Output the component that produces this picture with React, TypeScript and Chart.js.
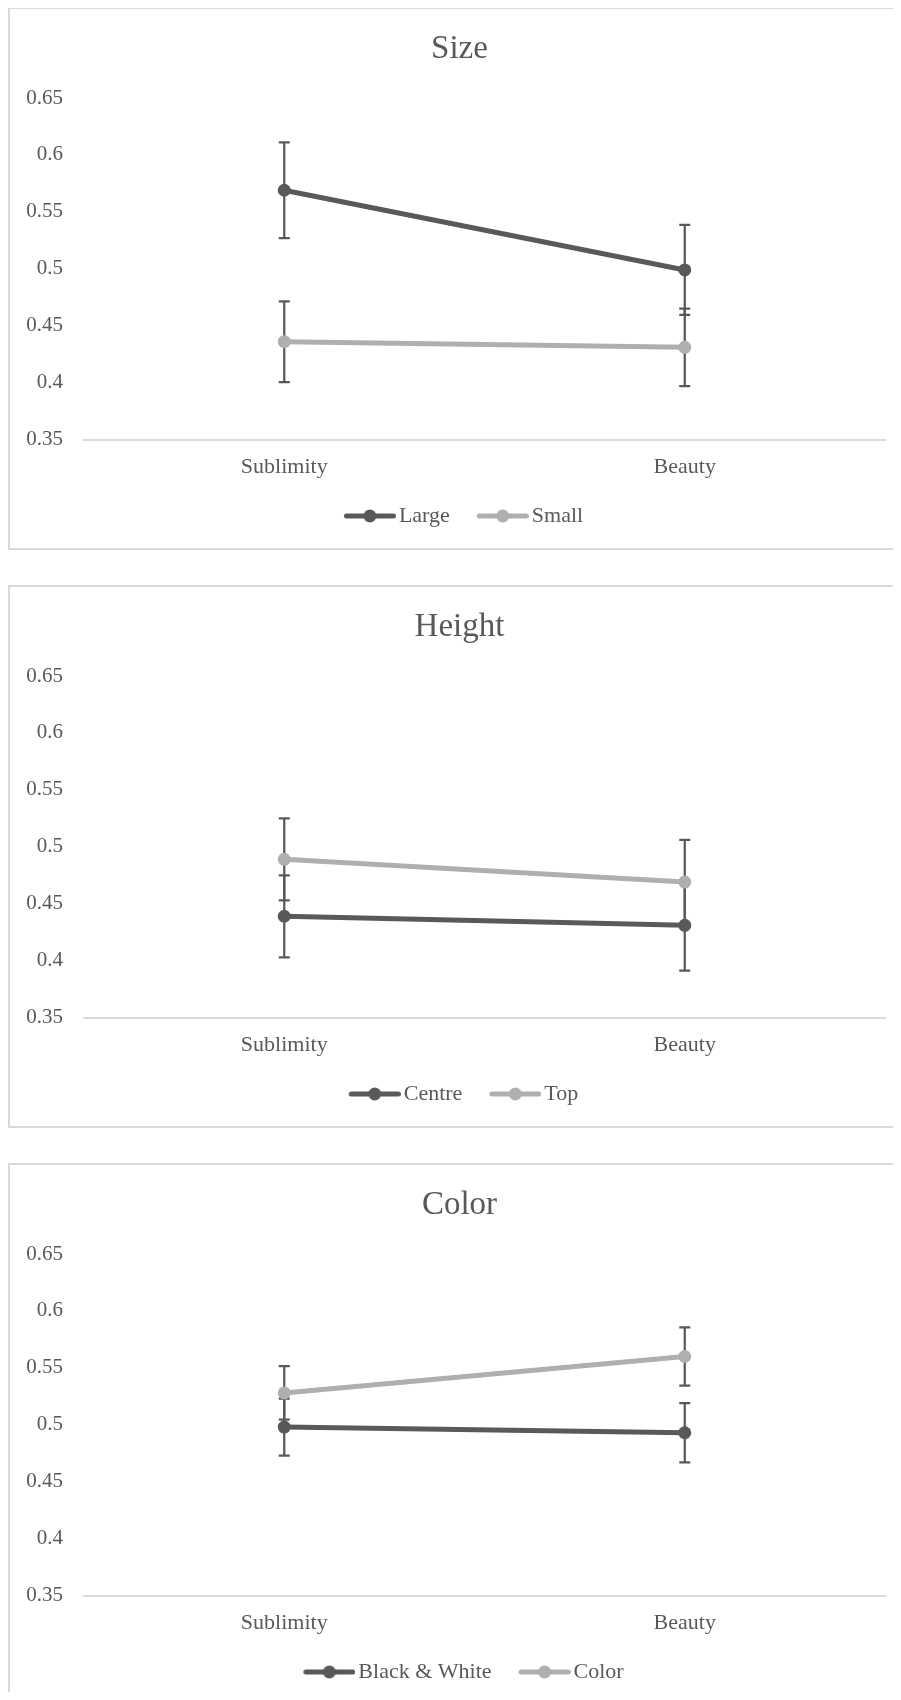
import React, { useEffect, useRef, useState } from 'react';
import { Chart, registerables } from 'chart.js';

Chart.register(...registerables);

// ---- data ----
const categories = ['Sublimity', 'Beauty'];
const yMin = 0.35;
const yMax = 0.65;
const yStep = 0.05;

const sizeTitle = 'Size';
const sizeSeriesNames = ['Large', 'Small'];
const sizeLarge = [0.569, 0.499];
const sizeLargeErr = [0.042, 0.0395];
const sizeSmall = [0.436, 0.431];
const sizeSmallErr = [0.0355, 0.034];

const heightTitle = 'Height';
const heightSeriesNames = ['Centre', 'Top'];
const heightCentre = [0.439, 0.431];
const heightCentreErr = [0.036, 0.0398];
const heightTop = [0.489, 0.469];
const heightTopErr = [0.036, 0.037];

const colorTitle = 'Color';
const colorSeriesNames = ['Black & White', 'Color'];
const colorBW = [0.498, 0.493];
const colorBWErr = [0.025, 0.026];
const colorColor = [0.528, 0.56];
const colorColorErr = [0.0235, 0.0255];

// ---- styles ----
const DARK = '#595959';
const LIGHT = '#afafaf';
const TEXT = '#595959';
const FONT = "'Liberation Serif', 'Times New Roman', serif";
const CANVAS_W = 888;
const CANVAS_H = 539;
const LINE_W = 5;
const POINT_R = 6.5;

function makeLegendImage(color: string): HTMLCanvasElement {
  const c = document.createElement('canvas');
  c.width = 68;
  c.height = 16;
  const ctx = c.getContext('2d') as CanvasRenderingContext2D;
  ctx.strokeStyle = color;
  ctx.lineWidth = LINE_W;
  ctx.lineCap = 'round';
  ctx.beginPath();
  ctx.moveTo(18.5, 8);
  ctx.lineTo(65.5, 8);
  ctx.stroke();
  ctx.fillStyle = color;
  ctx.beginPath();
  ctx.arc(42, 8, 6.5, 0, Math.PI * 2);
  ctx.fill();
  return c;
}

const errorBarPlugin = {
  id: 'errorBars',
  beforeDatasetsDraw(chart: any) {
    const ctx = chart.ctx;
    const yScale = chart.scales.y;
    const cap = 5.5;
    chart.data.datasets.forEach((ds: any, i: number) => {
      const meta = chart.getDatasetMeta(i);
      const errs = ds.errors || [];
      meta.data.forEach((pt: any, j: number) => {
        const v = ds.data[j];
        const e = errs[j] || 0;
        const top = yScale.getPixelForValue(v + e);
        const bot = yScale.getPixelForValue(v - e);
        const x = pt.x;
        ctx.save();
        ctx.strokeStyle = DARK;
        ctx.lineWidth = 2.25;
        ctx.beginPath();
        ctx.moveTo(x, top);
        ctx.lineTo(x, bot);
        ctx.moveTo(x - cap, top);
        ctx.lineTo(x + cap, top);
        ctx.moveTo(x - cap, bot);
        ctx.lineTo(x + cap, bot);
        ctx.stroke();
        ctx.restore();
      });
    });
  },
};

type Series = { name: string; values: number[]; errors: number[]; color: string };

function Panel({ title, series, top, height, noBottom }: { title: string; series: Series[]; top: number; height: number; noBottom?: boolean }) {
  const ref = useRef<HTMLCanvasElement>(null);
  const [err, setErr] = useState('');
  useEffect(() => {
    let chart: any = null;
    try {
      const imgs = series.map((s) => makeLegendImage(s.color));
      chart = new Chart(ref.current as HTMLCanvasElement, {
        type: 'line',
        data: {
          labels: categories,
          datasets: series.map((s) => ({
            label: s.name,
            data: s.values,
            errors: s.errors,
            borderColor: s.color,
            backgroundColor: s.color,
            borderWidth: LINE_W,
            pointRadius: POINT_R,
            pointBorderWidth: 0,
            pointBackgroundColor: s.color,
            tension: 0,
            yAxisID: 'y',
          })) as any,
        },
        options: {
          animation: false,
          responsive: false,
          devicePixelRatio: 1,
          layout: { padding: { left: 16, right: 5, top: 0, bottom: 11 } },
          scales: {
            x: {
              offset: true,
              grid: { display: true, color: 'rgba(0,0,0,0)', drawTicks: false },
              border: { display: true, color: '#d9d9d9', width: 2 },
              ticks: { color: TEXT, font: { family: FONT, size: 22 }, padding: 14.5 },
              afterFit: (s: any) => {
                s.height -= 9;
              },
            },
            y: {
              min: yMin,
              max: yMax,
              grid: { display: false, drawTicks: false },
              border: { display: false },
              ticks: {
                stepSize: yStep,
                color: TEXT,
                font: { family: FONT, size: 21 },
                padding: 21,
                callback: (v: any) => String(Number(Number(v).toFixed(2))),
              },
              afterFit: (s: any) => {
                s.width = 58;
              },
            },
            yRight: {
              position: 'right',
              display: true,
              grid: { display: false, drawTicks: false },
              border: { display: false },
              ticks: { display: false },
              afterFit: (s: any) => {
                s.width = 8;
              },
            },
          },
          plugins: {
            tooltip: { enabled: false },
            title: {
              display: true,
              text: title,
              color: TEXT,
              font: { family: FONT, size: 33, weight: 'normal' },
              padding: { top: 20.4, bottom: 29 },
            },
            legend: {
              position: 'bottom',
              align: 'center',
              labels: {
                usePointStyle: true,
                pointStyleWidth: 52,
                padding: 19,
                color: TEXT,
                font: { family: FONT, size: 22 },
                generateLabels: (ch: any) =>
                  ch.data.datasets.map((ds: any, i: number) => ({
                    text: ds.label,
                    pointStyle: imgs[i],
                    fillStyle: ds.borderColor,
                    strokeStyle: ds.borderColor,
                    lineWidth: 0,
                    hidden: false,
                    datasetIndex: i,
                    fontColor: TEXT,
                  })),
              },
            },
          },
        } as any,
        plugins: [errorBarPlugin],
      });
    } catch (e: any) {
      setErr(String(e && e.stack ? e.stack : e));
    }
    return () => {
      if (chart) chart.destroy();
    };
  }, []);
  return (
    <div
      style={{
        position: 'absolute',
        left: 0,
        top,
        width: 892,
        height,
        boxSizing: 'border-box',
        border: '2px solid #d9d9d9',
        borderBottom: noBottom ? 'none' : '2px solid #d9d9d9',
        background: '#fff',
        overflow: 'hidden',
      }}
    >
      <canvas ref={ref} width={CANVAS_W} height={CANVAS_H} style={{ display: 'block' }} />
      {err ? <pre style={{ position: 'absolute', top: 0, left: 0, fontSize: 10, color: 'red' }}>{err}</pre> : null}
    </div>
  );
}

export default function App() {
  const sizeSeries: Series[] = [
    { name: sizeSeriesNames[0], values: sizeLarge, errors: sizeLargeErr, color: DARK },
    { name: sizeSeriesNames[1], values: sizeSmall, errors: sizeSmallErr, color: LIGHT },
  ];
  const heightSeries: Series[] = [
    { name: heightSeriesNames[0], values: heightCentre, errors: heightCentreErr, color: DARK },
    { name: heightSeriesNames[1], values: heightTop, errors: heightTopErr, color: LIGHT },
  ];
  const colorSeries: Series[] = [
    { name: colorSeriesNames[0], values: colorBW, errors: colorBWErr, color: DARK },
    { name: colorSeriesNames[1], values: colorColor, errors: colorColorErr, color: LIGHT },
  ];
  return (
    <div style={{ position: 'relative', width: 892, height: 1684 }}>
      <Panel title={sizeTitle} series={sizeSeries} top={-1} height={543} />
      <Panel title={heightTitle} series={heightSeries} top={577} height={543} />
      <Panel title={colorTitle} series={colorSeries} top={1155} height={537} noBottom />
    </div>
  );
}
